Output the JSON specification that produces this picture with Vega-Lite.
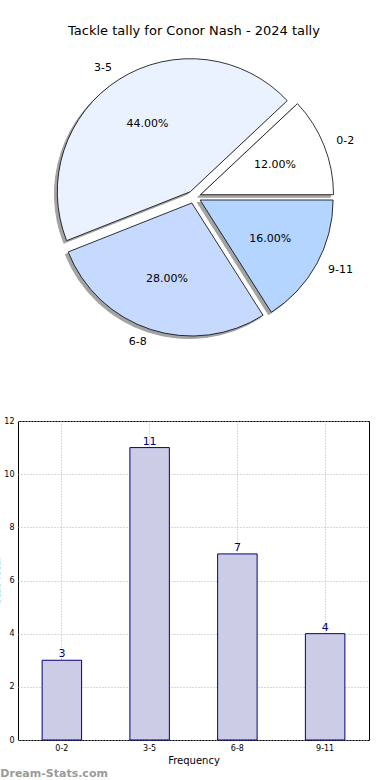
{
  "$schema": "https://vega.github.io/schema/vega-lite/v6.json",
  "padding": {"left": -9, "top": 25, "right": 0, "bottom": 0},
  "background": "white",
  "config": {
    "font": "DejaVu Sans",
    "axis": {"labelFont": "DejaVu Sans", "titleFont": "DejaVu Sans", "labelColor": "black", "titleColor": "black", "titleFontWeight": "normal"}
  },
  "data": {"values": [
    {"label": "0-2", "count": 3, "share": 0.12},
    {"label": "3-5", "count": 11, "share": 0.44},
    {"label": "6-8", "count": 7, "share": 0.28},
    {"label": "9-11", "count": 4, "share": 0.16}
  ]},
  "title": {"text": "Dream-Stats.com", "orient": "bottom", "anchor": "start", "fontSize": 11, "fontWeight": "bold", "color": "#9a9a9a", "dx": 9, "offset": 2, "font": "DejaVu Sans"},
  "spacing": 66,
  "vconcat": [
    {
      "width": 352,
      "height": 306,
      "view": {"stroke": null},
      "title": {"text": "Tackle tally for Conor Nash - 2024 tally", "fontSize": 13, "fontWeight": "normal", "color": "black", "anchor": "middle", "font": "DejaVu Sans", "offset": 6},
      "encoding": {
        "theta": {"field": "count", "type": "quantitative", "stack": true, "scale": {"range": [1.5707963, -4.712389]}},
        "order": {"field": "label", "type": "nominal", "sort": "ascending"}
      },
      "layer": [
        {"mark": {"type": "arc", "radius": 133, "fill": "#a3a3a3", "stroke": "#a3a3a3", "xOffset": 3.7, "yOffset": 0.2},
         "encoding": {"opacity": {"condition": {"test": "datum.label === '0-2'", "value": 1}, "value": 0}}},
        {"mark": {"type": "arc", "radius": 133, "fill": "#a3a3a3", "stroke": "#a3a3a3", "xOffset": -6.5, "yOffset": -2.8},
         "encoding": {"opacity": {"condition": {"test": "datum.label === '3-5'", "value": 1}, "value": 0}}},
        {"mark": {"type": "arc", "radius": 133, "fill": "#a3a3a3", "stroke": "#a3a3a3", "xOffset": -5.0, "yOffset": 8.5},
         "encoding": {"opacity": {"condition": {"test": "datum.label === '6-8'", "value": 1}, "value": 0}}},
        {"mark": {"type": "arc", "radius": 133, "fill": "#a3a3a3", "stroke": "#a3a3a3", "xOffset": 3.3, "yOffset": 5.5},
         "encoding": {"opacity": {"condition": {"test": "datum.label === '9-11'", "value": 1}, "value": 0}}},

        {"mark": {"type": "arc", "radius": 133, "fill": "#ffffff", "stroke": "black", "strokeWidth": 0.8, "xOffset": 6.5, "yOffset": -2.3},
         "encoding": {"opacity": {"condition": {"test": "datum.label === '0-2'", "value": 1}, "value": 0}}},
        {"mark": {"type": "arc", "radius": 133, "fill": "#ebf2ff", "stroke": "black", "strokeWidth": 0.8, "xOffset": -3.7, "yOffset": -5.3},
         "encoding": {"opacity": {"condition": {"test": "datum.label === '3-5'", "value": 1}, "value": 0}}},
        {"mark": {"type": "arc", "radius": 133, "fill": "#c6d9ff", "stroke": "black", "strokeWidth": 0.8, "xOffset": -2.2, "yOffset": 6.0},
         "encoding": {"opacity": {"condition": {"test": "datum.label === '6-8'", "value": 1}, "value": 0}}},
        {"mark": {"type": "arc", "radius": 133, "fill": "#b3d5ff", "stroke": "black", "strokeWidth": 0.8, "xOffset": 6.1, "yOffset": 3.0},
         "encoding": {"opacity": {"condition": {"test": "datum.label === '9-11'", "value": 1}, "value": 0}}},

        {"mark": {"type": "text", "radius": 80, "fontSize": 11, "color": "black", "align": "center", "baseline": "middle", "xOffset": 6.5, "yOffset": -2.3},
         "encoding": {"text": {"field": "share", "type": "quantitative", "format": ".2%"}, "opacity": {"condition": {"test": "datum.label === '0-2'", "value": 1}, "value": 0}}},
        {"mark": {"type": "text", "radius": 80, "fontSize": 11, "color": "black", "align": "center", "baseline": "middle", "xOffset": -3.7, "yOffset": -5.3},
         "encoding": {"text": {"field": "share", "type": "quantitative", "format": ".2%"}, "opacity": {"condition": {"test": "datum.label === '3-5'", "value": 1}, "value": 0}}},
        {"mark": {"type": "text", "radius": 80, "fontSize": 11, "color": "black", "align": "center", "baseline": "middle", "xOffset": -2.2, "yOffset": 6.0},
         "encoding": {"text": {"field": "share", "type": "quantitative", "format": ".2%"}, "opacity": {"condition": {"test": "datum.label === '6-8'", "value": 1}, "value": 0}}},
        {"mark": {"type": "text", "radius": 80, "fontSize": 11, "color": "black", "align": "center", "baseline": "middle", "xOffset": 6.1, "yOffset": 3.0},
         "encoding": {"text": {"field": "share", "type": "quantitative", "format": ".2%"}, "opacity": {"condition": {"test": "datum.label === '9-11'", "value": 1}, "value": 0}}},

        {"mark": {"type": "text", "radius": 146, "fontSize": 11, "color": "black", "align": "left", "baseline": "middle", "xOffset": 6.5, "yOffset": -2.3},
         "encoding": {"text": {"field": "label"}, "opacity": {"condition": {"test": "datum.label === '0-2'", "value": 1}, "value": 0}}},
        {"mark": {"type": "text", "radius": 146, "fontSize": 11, "color": "black", "align": "right", "baseline": "middle", "xOffset": -3.7, "yOffset": -5.3},
         "encoding": {"text": {"field": "label"}, "opacity": {"condition": {"test": "datum.label === '3-5'", "value": 1}, "value": 0}}},
        {"mark": {"type": "text", "radius": 146, "fontSize": 11, "color": "black", "align": "right", "baseline": "middle", "xOffset": -2.2, "yOffset": 6.0},
         "encoding": {"text": {"field": "label"}, "opacity": {"condition": {"test": "datum.label === '6-8'", "value": 1}, "value": 0}}},
        {"mark": {"type": "text", "radius": 146, "fontSize": 11, "color": "black", "align": "left", "baseline": "middle", "xOffset": 6.1, "yOffset": 3.0},
         "encoding": {"text": {"field": "label"}, "opacity": {"condition": {"test": "datum.label === '9-11'", "value": 1}, "value": 0}}}
      ]
    },
    {
      "width": 351,
      "height": 319,
      "view": {"stroke": "black", "strokeWidth": 1},
      "encoding": {
        "x": {"field": "label", "type": "nominal", "sort": null,
              "scale": {"paddingInner": 0.55, "paddingOuter": 0.275},
              "axis": {"title": "Frequency", "titleFontSize": 10, "titlePadding": 3, "labelFontSize": 8, "labelAngle": 0, "labelPadding": 4, "ticks": false, "domain": false,
                       "grid": true, "bandPosition": 0.5, "gridColor": "#b0b0b0", "gridDash": [1, 2], "gridWidth": 1}},
        "y": {"field": "count", "type": "quantitative",
              "scale": {"domain": [0, 12], "nice": false},
              "axis": {"title": "Stat Total", "titleFontSize": 10, "titlePadding": 2, "labelFontSize": 8, "labelPadding": 4, "ticks": false, "domain": false,
                       "values": [0, 2, 4, 6, 8, 10, 12], "grid": true, "gridColor": "#b0b0b0", "gridDash": [1, 2], "gridWidth": 1}}
      },
      "layer": [
        {"mark": {"type": "bar", "fill": "#ccccE6", "stroke": "#000080", "strokeWidth": 1}},
        {"mark": {"type": "text", "color": "#000080", "fontSize": 11, "baseline": "alphabetic", "dy": -3},
         "encoding": {"text": {"field": "count", "type": "quantitative"}}}
      ]
    }
  ]
}
